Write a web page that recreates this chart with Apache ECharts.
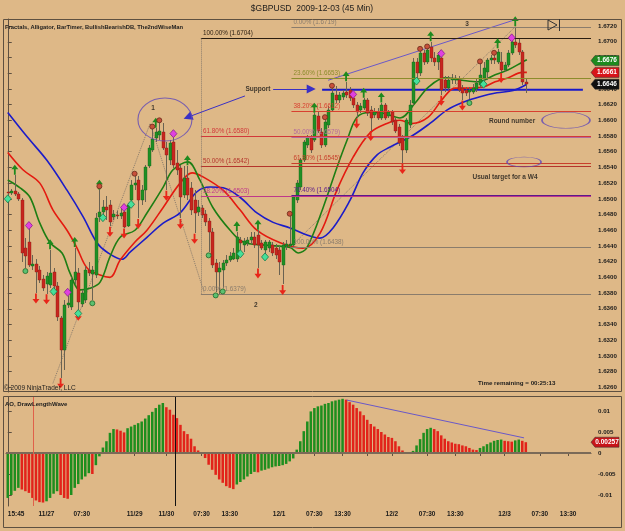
<!DOCTYPE html>
<html>
<head>
<meta charset="utf-8">
<title>$GBPUSD 2009-12-03 (45 Min)</title>
<script src="https://cdn.jsdelivr.net/npm/echarts@6.0.0/dist/echarts.min.js"></script>
<style>
html,body{margin:0;padding:0;background:#DEB887;overflow:hidden;}
#chart{width:625px;height:531px;}
</style>
</head>
<body>
<div id="chart"></div>
<script>
// ================= DATA =================
const titleText = '$GBPUSD  2009-12-03 (45 Min)';
const indicatorText = 'Fractals, Alligator, BarTimer, BullishBearishDB, The2ndWiseMan';
const aoPanelText = 'AO, DrawLengthWave';
const copyrightText = '\u00A9 2009 NinjaTrader, LLC';
const timerText = 'Time remaining = 00:25:13';

const N_SLOTS = 166; // bar slots incl. right margin

// 45-min bars: [open, close, low, high]
const ohlc = [
[1.6509,1.6507,1.6503,1.6511],[1.6507,1.6510,1.6505,1.6512],[1.6510,1.6506,1.6503,1.6530],[1.6506,1.6500,1.6497,1.6509],
[1.6498,1.6431,1.6419,1.6501],[1.6437,1.6427,1.6412,1.6450],[1.6445,1.6416,1.6413,1.6463],[1.6414,1.6417,1.6409,1.6428],
[1.6417,1.6407,1.6380,1.6424],[1.6409,1.6396,1.6393,1.6414],[1.6398,1.6386,1.6382,1.6403],[1.6391,1.6402,1.6379,1.6407],
[1.6390,1.6405,1.6387,1.6435],[1.6407,1.6389,1.6385,1.6412],[1.6389,1.6349,1.6345,1.6394],[1.6348,1.6307,1.6272,1.6351],
[1.6307,1.6365,1.6282,1.6371],[1.6365,1.6367,1.6361,1.6376],[1.6362,1.6396,1.6358,1.6400],[1.6396,1.6407,1.6391,1.6438],
[1.6405,1.6368,1.6358,1.6412],[1.6366,1.6380,1.6362,1.6384],[1.6371,1.6409,1.6367,1.6414],[1.6409,1.6405,1.6402,1.6419],
[1.6404,1.6409,1.6371,1.6414],[1.6403,1.6475,1.6399,1.6482],[1.6477,1.6483,1.6470,1.6511],[1.6483,1.6489,1.6478,1.6498],
[1.6489,1.6486,1.6473,1.6503],[1.6492,1.6470,1.6465,1.6498],[1.6477,1.6481,1.6473,1.6486],[1.6479,1.6478,1.6474,1.6484],
[1.6478,1.6482,1.6474,1.6488],[1.6483,1.6464,1.6463,1.6487],[1.6466,1.6492,1.6464,1.6495],[1.6498,1.6517,1.6496,1.6524],
[1.6517,1.6520,1.6511,1.6530],[1.6524,1.6498,1.6475,1.6529],[1.6498,1.6511,1.6492,1.6517],[1.6511,1.6540,1.6496,1.6543],
[1.6542,1.6565,1.6539,1.6568],[1.6562,1.6576,1.6559,1.6591],[1.6577,1.6585,1.6572,1.6590],[1.6581,1.6587,1.6575,1.6598],
[1.6585,1.6565,1.6562,1.6596],[1.6565,1.6556,1.6511,1.6572],[1.6549,1.6571,1.6543,1.6575],[1.6572,1.6543,1.6539,1.6580],
[1.6545,1.6537,1.6530,1.6562],[1.6539,1.6502,1.6475,1.6543],[1.6505,1.6526,1.6501,1.6542],[1.6526,1.6505,1.6498,1.6542],
[1.6514,1.6486,1.6479,1.6521],[1.6498,1.6482,1.6456,1.6511],[1.6483,1.6489,1.6478,1.6498],[1.6488,1.6479,1.6475,1.6492],
[1.6481,1.6470,1.6465,1.6486],[1.6472,1.6458,1.6432,1.6475],[1.6458,1.6416,1.6412,1.6463],[1.6418,1.6407,1.6381,1.6424],
[1.6407,1.6412,1.6379,1.6419],[1.6409,1.6418,1.6386,1.6422],[1.6418,1.6422,1.6414,1.6428],[1.6422,1.6427,1.6419,1.6432],
[1.6424,1.6431,1.6422,1.6437],[1.6424,1.6451,1.6419,1.6458],[1.6447,1.6444,1.6435,1.6452],[1.6441,1.6446,1.6432,1.6450],
[1.6444,1.6447,1.6440,1.6452],[1.6447,1.6452,1.6442,1.6458],[1.6452,1.6441,1.6437,1.6458],[1.6454,1.6441,1.6412,1.6460],
[1.6444,1.6437,1.6435,1.6447],[1.6435,1.6445,1.6430,1.6447],[1.6437,1.6445,1.6432,1.6447],[1.6441,1.6431,1.6427,1.6445],
[1.6437,1.6428,1.6424,1.6442],[1.6435,1.6419,1.6403,1.6440],[1.6416,1.6441,1.6391,1.6445],[1.6440,1.6442,1.6435,1.6447],
[1.6440,1.6442,1.6437,1.6479],[1.6441,1.6502,1.6438,1.6505],[1.6498,1.6520,1.6495,1.6524],[1.6515,1.6549,1.6511,1.6552],
[1.6549,1.6572,1.6547,1.6575],[1.6568,1.6579,1.6565,1.6581],[1.6577,1.6562,1.6558,1.6581],[1.6575,1.6607,1.6572,1.6609],
[1.6605,1.6587,1.6584,1.6610],[1.6585,1.6568,1.6565,1.6590],[1.6568,1.6598,1.6566,1.6600],[1.6594,1.6613,1.6590,1.6618],
[1.6613,1.6635,1.6610,1.6641],[1.6632,1.6626,1.6622,1.6644],[1.6626,1.6632,1.6622,1.6636],[1.6630,1.6635,1.6626,1.6638],
[1.6636,1.6632,1.6628,1.6649],[1.6638,1.6628,1.6624,1.6642],[1.6628,1.6619,1.6616,1.6631],[1.6619,1.6610,1.6603,1.6623],
[1.6613,1.6618,1.6609,1.6622],[1.6616,1.6626,1.6613,1.6628],[1.6626,1.6609,1.6605,1.6628],[1.6613,1.6603,1.6587,1.6618],
[1.6607,1.6610,1.6603,1.6616],[1.6610,1.6603,1.6600,1.6616],[1.6603,1.6619,1.6600,1.6622],[1.6619,1.6603,1.6600,1.6622],
[1.6605,1.6610,1.6603,1.6613],[1.6610,1.6598,1.6594,1.6613],[1.6600,1.6587,1.6584,1.6603],[1.6591,1.6571,1.6567,1.6595],
[1.6577,1.6562,1.6545,1.6581],[1.6562,1.6600,1.6558,1.6603],[1.6594,1.6619,1.6590,1.6626],[1.6622,1.6674,1.6619,1.6679],
[1.6674,1.6660,1.6651,1.6679],[1.6660,1.6686,1.6656,1.6689],[1.6686,1.6674,1.6670,1.6689],[1.6674,1.6689,1.6672,1.6692],
[1.6693,1.6679,1.6674,1.6700],[1.6679,1.6674,1.6669,1.6687],[1.6674,1.6683,1.6664,1.6687],[1.6679,1.6638,1.6632,1.6682],
[1.6651,1.6641,1.6636,1.6656],[1.6641,1.6651,1.6638,1.6656],[1.6651,1.6654,1.6646,1.6659],[1.6651,1.6654,1.6646,1.6658],
[1.6651,1.6638,1.6636,1.6656],[1.6641,1.6635,1.6626,1.6645],[1.6638,1.6635,1.6631,1.6642],[1.6636,1.6638,1.6627,1.6642],
[1.6636,1.6641,1.6633,1.6646],[1.6640,1.6647,1.6636,1.6654],[1.6645,1.6658,1.6641,1.6673],[1.6654,1.6666,1.6649,1.6674],
[1.6661,1.6677,1.6651,1.6679],[1.6677,1.6679,1.6672,1.6683],[1.6679,1.6677,1.6672,1.6684],[1.6674,1.6687,1.6672,1.6691],
[1.6674,1.6664,1.6661,1.6687],[1.6664,1.6670,1.6661,1.6674],[1.6670,1.6686,1.6668,1.6689],[1.6686,1.6700,1.6683,1.6703],
[1.6700,1.6696,1.6692,1.6719],[1.6698,1.6687,1.6683,1.6705],[1.6687,1.6649,1.6645,1.6689],[1.6649,1.6646,1.6635,1.6654]
];

// Alligator lines [barIndex, price]
const jaw = [[0,1.6610],[5.5,1.6579],[11.1,1.6549],[16.8,1.6511],[21.4,1.6477],[25.3,1.6444],[28.2,1.6432],[32.4,1.6423],[34.7,1.6432],[39.5,1.6451],[44.1,1.6469],[48.9,1.6482],[53.7,1.6509],[57.4,1.6515],[61.1,1.6514],[65.9,1.6502],[70.7,1.6482],[75.3,1.6470],[80.1,1.6463],[84.9,1.6454],[88.6,1.6450],[92.3,1.6463],[97.1,1.6498],[100.8,1.6533],[104.8,1.6556],[108.5,1.6566],[115,1.6581],[119.8,1.6596],[124.6,1.6613],[129.2,1.6623],[134,1.6630],[138.8,1.6635],[143.4,1.6638],[147.3,1.6646]];
const teeth = [[0,1.6559],[4.3,1.6537],[9.1,1.6520],[12.8,1.6486],[16.8,1.6460],[19.6,1.6438],[22.5,1.6412],[26.2,1.6403],[29,1.6400],[31.9,1.6422],[36.1,1.6445],[39.5,1.6460],[44.1,1.6489],[48.9,1.6520],[52.3,1.6533],[55.4,1.6528],[61.1,1.6511],[65.9,1.6486],[70.7,1.6460],[77.3,1.6444],[83.8,1.6437],[88.6,1.6456],[93.4,1.6511],[98,1.6553],[102.8,1.6584],[107.6,1.6596],[111.3,1.6600],[114.7,1.6596],[119.3,1.6604],[123.2,1.6626],[126.9,1.6641],[130.6,1.6641],[134.6,1.6642],[138.3,1.6649],[141.9,1.6654],[146,1.6661],[147.3,1.6661]];
const lips = [[0,1.6524],[3.5,1.6514],[6.3,1.6502],[9.1,1.6469],[12,1.6444],[15.4,1.6431],[17.7,1.6405],[20.5,1.6384],[23.3,1.6386],[26.2,1.6394],[29,1.6426],[31.9,1.6451],[36.1,1.6460],[39.5,1.6482],[44.1,1.6515],[46.9,1.6537],[51.1,1.6547],[54.5,1.6524],[58.2,1.6489],[63.1,1.6460],[66.8,1.6445],[73,1.6441],[80.1,1.6438],[82.4,1.6431],[84.9,1.6438],[89.5,1.6489],[93.4,1.6540],[96.3,1.6575],[99.1,1.6604],[102.8,1.6610],[106.5,1.6609],[111.3,1.6603],[115.6,1.6622],[119.3,1.6642],[124.1,1.6654],[128.9,1.6651],[133.4,1.6649],[138.3,1.6658],[141.9,1.6664],[146,1.6674],[147.3,1.6677]];

// Fractal / indicator markers [barIndex, price]
const upArrows = [[2,1.6537],[12,1.6442],[19,1.6445],[26,1.6518],[42,1.6597],[51,1.6549],[65,1.6465],[71,1.6467],[87,1.6616],[96,1.6656],[101,1.6635],[106,1.6629],[120,1.6707],[139,1.6698],[144,1.6726]];
const downArrows = [[8,1.6373],[11,1.6372],[15,1.6265],[20,1.6351],[29,1.6458],[33,1.6456],[37,1.6468],[45,1.6504],[49,1.6468],[53,1.6449],[71,1.6405],[78,1.6384],[99,1.6596],[103,1.6580],[112,1.6538],[123,1.6625],[129,1.6619],[140,1.6654]];
const greenDots = [[5,1.6408],[24,1.6367],[57,1.6428],[59,1.6377],[61,1.6382],[131,1.6622]];
const redDots = [[26,1.6516],[36,1.6532],[41,1.6592],[43,1.6600],[80,1.6481],[90,1.6604],[92,1.6644],[117,1.6691],[119,1.6694],[134,1.6675],[138,1.6686]];
const greenDiamonds = [[0,1.6500],[13,1.6382],[20,1.6354],[27,1.6476],[35,1.6493],[66,1.6430],[73,1.6426],[116,1.6650],[135,1.6646]];
const magentaDiamonds = [[6,1.6466],[17,1.6381],[33,1.6489],[47,1.6583],[98,1.6633],[123,1.6685],[143,1.6705]];

// Fibonacci retracements
const fibLeftStart = 54.8, fibRightStart = 80.5, fibEnd = 165.5;
const fibLeftPct = ['100.00%','61.80%','50.00%','38.20%','0.00%'];
const fibLeftPrice = [1.6704,1.6580,1.6542,1.6503,1.6379];
const fibRightPct = ['0.00%','23.60%','38.20%','50.00%','61.80%','76.40%','100.00%'];
const fibRightPrice = [1.6719,1.6653,1.6612,1.6579,1.6545,1.6504,1.6438];

// Drawn objects
const supportPrice = 1.6639, supportFrom = 89.2, supportTo = 163.2;
const waveLine1 = [[12.8,1.6265],[40.4,1.6596],[55.7,1.6381]];
const waveLine2 = [[81.0,1.6442],[144.2,1.6720]];
const trendLine = [[90.9,1.6651],[143.9,1.6728]];
const arrowToSupport = [[75.3,1.6640],[86.1,1.6640]];
const arrowToWave1 = [[67.3,1.6631],[51.1,1.6604]];
const ellipseCenters = [[44.6,1.6601],[158.4,1.6600],[146.5,1.6547]];
const annoText = ['Support','Round number','Usual target for a W4','1','2','3'];
const annoPos = [[71.0,1.6640],[143.1,1.6599],[141.1,1.6528],[41.2,1.6616],[70.4,1.6365],[130.3,1.6723]];

// Price axis
const priceTicks = [1.6260,1.6280,1.6300,1.6320,1.6340,1.6360,1.6380,1.6400,1.6420,1.6440,1.6460,1.6480,1.6500,1.6520,1.6540,1.6560,1.6580,1.6600,1.6620,1.6640,1.6660,1.6680,1.6700,1.6720];
const priceMin = 1.6254, priceMax = 1.6729;
const lastLips = 1.6676, lastTeeth = 1.6661, lastClose = 1.6646;

// Awesome Oscillator
const ao = [
-0.0107,-0.0100,-0.0090,-0.0083,-0.0087,-0.0091,-0.0095,-0.0107,-0.0113,-0.0117,
-0.0118,-0.0115,-0.0107,-0.0097,-0.0091,-0.0100,-0.0107,-0.0109,-0.0100,-0.0083,
-0.0074,-0.0063,-0.0056,-0.0048,-0.0050,-0.0029,-0.0008,0.0013,0.0028,0.0048,
0.0057,0.0056,0.0053,0.0049,0.0059,0.0063,0.0067,0.0071,0.0075,0.0082,
0.0090,0.0098,0.0107,0.0115,0.0119,0.0109,0.0103,0.0091,0.0083,0.0067,
0.0052,0.0045,0.0034,0.0016,0.0006,-0.0002,-0.0012,-0.0028,-0.0040,-0.0052,
-0.0063,-0.0071,-0.0079,-0.0083,-0.0086,-0.0075,-0.0069,-0.0063,-0.0056,-0.0050,
-0.0045,-0.0046,-0.0042,-0.0040,-0.0037,-0.0034,-0.0032,-0.0031,-0.0029,-0.0026,
-0.0020,-0.0013,0.0008,0.0028,0.0052,0.0075,0.0099,0.0107,0.0111,0.0113,
0.0117,0.0119,0.0123,0.0125,0.0127,0.0129,0.0127,0.0121,0.0115,0.0107,
0.0099,0.0090,0.0079,0.0069,0.0063,0.0057,0.0050,0.0044,0.0038,0.0036,
0.0028,0.0016,0.0006,0.0002,0.0001,0.0005,0.0018,0.0033,0.0048,0.0057,
0.0060,0.0057,0.0052,0.0042,0.0034,0.0028,0.0025,0.0022,0.0021,0.0018,
0.0016,0.0012,0.0008,0.0007,0.0012,0.0016,0.0021,0.0025,0.0029,0.0031,
0.0032,0.0029,0.0028,0.0027,0.0030,0.0032,0.0029,0.00257
];
const aoMin = -0.01262, aoMax = 0.01333;
const aoTicks = [-0.01,-0.005,0,0.005,0.01];
const aoTickLabels = ['-0.01','-0.005','0','0.005','0.01'];
const aoDivergence = [[96.2,0.0126],[146.5,0.0036]];
const aoRedVertical = 7.2, aoBlackVertical = 47.5;

// Time axis ticks (bar index -> label)
const xTickIdx = [0,9,11,21,36,45,55,63,70,77,87,95,102,109,119,127,134,141,151,159];
const xTickLabels = ['15:45','','11/27','07:30','11/29','11/30','07:30','13:30','','12/1','07:30','13:30','','12/2','07:30','13:30','','12/3','07:30','13:30'];

// ================= STYLE =================
const FN = "'Liberation Sans',Arial,sans-serif";
const AXC = '#5e5040', TXT = '#1a1a1a';
const fibLeftColor = ['#2a1d10','#d2383a','#b4342c','#c0388a','#8a7c6c'];
const fibRightColor = ['#8a7c6c','#8c8c2c','#d84030','#b46a9c','#c8402c','#5a1a8a','#8a7c6c'];
const ELLIPSE_PATH = 'path://M0,50 A50,50 0 1,1 100,50 A50,50 0 1,1 0,50 Z';
const ellipseSizes = [[54,43],[48,16],[34,10]];
const UP_ARROW = 'path://M5,0 L10,5.5 L6.3,5.5 L6.3,12 L3.7,12 L3.7,5.5 L0,5.5 Z';
const DOWN_ARROW = 'path://M3.7,0 L6.3,0 L6.3,6.5 L10,6.5 L5,12 L0,6.5 L3.7,6.5 Z';

const slots = Array.from({length: N_SLOTS}, (_, i) => {
  const k = xTickIdx.indexOf(i); return k >= 0 ? xTickLabels[k] : '';
});
const tickSet = new Set(xTickIdx);

const chart = echarts.init(document.getElementById('chart'), null, {renderer: 'canvas'});

const alligator = (name, pts, color, w) => ({
  type: 'line', name, xAxisIndex: 1, yAxisIndex: 0, data: pts, smooth: 0.35,
  symbol: 'none', lineStyle: {color, width: w}, silent: true, z: 3
});
const markerSeries = (data, symbol, size, color, border) => ({
  type: 'scatter', xAxisIndex: 1, yAxisIndex: 0, data, symbol, symbolSize: size,
  itemStyle: {color, borderColor: border, borderWidth: border ? 0.8 : 0, opacity: 1}, silent: true, z: 5
});

const fibLabel = (text, color) => ({show: true, position: 'insideStartTop', distance: 2, formatter: text,
  color, fontSize: 6.3, fontFamily: FN});
const fibML = [];
fibLeftPrice.forEach((p, k) => fibML.push([
  {coord: [fibLeftStart, p], lineStyle: {color: fibLeftColor[k], width: 1, type: 'solid'},
   label: fibLabel(fibLeftPct[k] + ' (' + p.toFixed(4) + ')', fibLeftColor[k])},
  {coord: [fibEnd, p]}
]));
fibRightPrice.forEach((p, k) => fibML.push([
  {coord: [fibRightStart, p], lineStyle: {color: fibRightColor[k], width: 1, type: 'solid'},
   label: fibLabel(fibRightPct[k] + ' (' + p.toFixed(4) + ')', fibRightColor[k])},
  {coord: [fibEnd, p]}
]));
fibML.push([{coord: [fibLeftStart, fibLeftPrice[0]], lineStyle: {color: '#8a7c6c', width: 1, type: 'dotted'}},
            {coord: [fibLeftStart, fibLeftPrice[fibLeftPrice.length - 1]]}]);
[arrowToSupport, arrowToWave1].forEach(a => fibML.push([
  {coord: a[0], symbol: 'none', lineStyle: {color: '#3a30c4', width: 1, type: 'solid'}},
  {coord: a[1], symbol: 'triangle', symbolSize: 9}
]));

const option = {
  backgroundColor: '#DEB887',
  animation: false,
  grid: [
    {left: 6, top: 19, width: 585, height: 373, containLabel: false, outerBoundsMode: 'none'},
    {left: 6, top: 397, width: 585, height: 109, containLabel: false, outerBoundsMode: 'none'}
  ],
  xAxis: [
    {gridIndex: 0, type: 'category', data: slots, boundaryGap: true, show: false},
    {gridIndex: 0, type: 'value', min: -0.5, max: N_SLOTS - 0.5, show: false},
    {gridIndex: 1, type: 'category', data: slots, boundaryGap: true,
     axisLine: {show: true, lineStyle: {color: AXC, width: 1}},
     axisTick: {show: true, interval: (i) => tickSet.has(i), alignWithLabel: true, length: 3, lineStyle: {color: AXC}},
     axisLabel: {show: true, interval: (i) => tickSet.has(i), margin: 5, fontSize: 6.5, fontFamily: FN, color: TXT,
                 fontWeight: 'bold', alignMinLabel: 'left'},
     splitLine: {show: false}},
    {gridIndex: 1, type: 'value', min: -0.5, max: N_SLOTS - 0.5, show: false}
  ],
  yAxis: [
    {gridIndex: 0, type: 'value', position: 'right', min: priceMin, max: priceMax, scale: true,
     axisLine: {show: true, lineStyle: {color: AXC, width: 1}},
     axisTick: {show: true, length: 4, customValues: priceTicks, lineStyle: {color: AXC}},
     axisLabel: {show: true, customValues: priceTicks, margin: 7, fontSize: 6.2, fontFamily: FN, color: TXT, fontWeight: 'bold',
                 formatter: (v) => Number(v).toFixed(4)},
     splitLine: {show: false}},
    {gridIndex: 1, type: 'value', position: 'right', min: aoMin, max: aoMax,
     axisLine: {show: true, lineStyle: {color: AXC, width: 1}},
     axisTick: {show: true, length: 4, customValues: aoTicks, lineStyle: {color: AXC}},
     axisLabel: {show: true, customValues: aoTicks, margin: 7, fontSize: 6.2, fontFamily: FN, color: TXT, fontWeight: 'bold',
                 formatter: (v) => { const k = aoTicks.findIndex(t => Math.abs(t - v) < 1e-9); return k >= 0 ? aoTickLabels[k] : ''; }},
     splitLine: {show: false}}
  ],
  series: [
    {type: 'line', name: 'Support', xAxisIndex: 1, yAxisIndex: 0,
     data: [[supportFrom, supportPrice], [supportTo, supportPrice]], symbol: 'none',
     lineStyle: {color: '#1818c8', width: 2}, silent: true, z: 2,
     markLine: {silent: true, symbol: ['none', 'none'], label: {show: false}, data: fibML, animation: false}},
    alligator('Jaw', jaw, '#1c1cc8', 1.6),
    alligator('Teeth', teeth, '#e41a10', 1.6),
    alligator('Lips', lips, '#1e7e14', 1.6),
    {type: 'line', xAxisIndex: 1, yAxisIndex: 0, data: waveLine1, symbol: 'none',
     lineStyle: {color: '#8a7c6c', width: 1, type: 'dotted'}, silent: true, z: 2},
    {type: 'line', xAxisIndex: 1, yAxisIndex: 0, data: waveLine2, symbol: 'none',
     lineStyle: {color: '#8a7c6c', width: 1, type: 'dotted'}, silent: true, z: 2},
    {type: 'line', xAxisIndex: 1, yAxisIndex: 0, data: trendLine, symbol: 'none',
     lineStyle: {color: '#6a58c8', width: 1}, silent: true, z: 2},
    {type: 'custom', name: 'GBPUSD', xAxisIndex: 0, yAxisIndex: 0, silent: true, z: 4,
     data: ohlc.map((d, i) => [i, d[0], d[1], d[2], d[3]]),
     encode: {x: 0, y: [1, 2, 3, 4]},
     renderItem: (params, api) => {
       const i = api.value(0), o = api.value(1), c = api.value(2), l = api.value(3), h = api.value(4);
       const pO = api.coord([i, o]), pC = api.coord([i, c]), pH = api.coord([i, h]), pL = api.coord([i, l]);
       const cx = Math.round(pO[0]);
       const top = Math.round(Math.min(pO[1], pC[1])), bot = Math.round(Math.max(pO[1], pC[1]));
       const up = c >= o;
       return {type: 'group', children: [
         {type: 'line', shape: {x1: cx + 0.5, y1: Math.round(pH[1]), x2: cx + 0.5, y2: Math.round(pL[1])},
          style: {stroke: '#6a6252', lineWidth: 1}},
         {type: 'rect', shape: {x: cx - 1, y: top, width: 3, height: Math.max(1, bot - top)},
          style: {fill: up ? '#1f8f24' : '#c8261e', stroke: up ? '#17601a' : '#8a1c14', lineWidth: 0.4}}
       ]};
     }},
    markerSeries(upArrows, UP_ARROW, [7, 10], '#1e8a1e', null),
    markerSeries(downArrows, DOWN_ARROW, [7, 10], '#e8261a', null),
    markerSeries(greenDots, 'circle', 5, '#5cc070', '#1f6a2a'),
    markerSeries(redDots, 'circle', 5, '#c8503a', '#6a2a1a'),
    markerSeries(greenDiamonds, 'diamond', [7, 8], '#46e09a', '#1a7a4a'),
    markerSeries(magentaDiamonds, 'diamond', [7, 8], '#e040e0', '#8a208a'),
    {type: 'scatter', xAxisIndex: 1, yAxisIndex: 0, silent: true, z: 6,
     data: ellipseCenters.map((c, k) => ({value: c, symbolSize: ellipseSizes[k]})),
     symbol: ELLIPSE_PATH,
     itemStyle: {color: 'rgba(0,0,0,0)', borderColor: '#6048b8', borderWidth: 1}},
    {type: 'scatter', xAxisIndex: 1, yAxisIndex: 0, silent: true, z: 7,
     data: annoPos.map((p, k) => ({value: p, name: annoText[k]})), symbolSize: 1,
     itemStyle: {color: 'rgba(0,0,0,0)'},
     label: {show: true, position: 'inside', formatter: '{b}', fontSize: 6.5, fontWeight: 'bold', color: '#141414', fontFamily: FN}},
    {type: 'bar', name: 'AO', xAxisIndex: 2, yAxisIndex: 1, barWidth: '72%', silent: true,
     data: ao.map((v, i) => ({value: v, itemStyle: {color: (i > 0 && v < ao[i - 1]) ? '#e2231a' : '#1e8e1e'}}))},
    {type: 'line', xAxisIndex: 3, yAxisIndex: 1, data: aoDivergence, symbol: 'none', silent: true, z: 5,
     lineStyle: {color: '#6a58c8', width: 1},
     markLine: {silent: true, symbol: ['none', 'none'], label: {show: false}, animation: false, data: [
       [{coord: [-0.5, 0], lineStyle: {color: '#7a6a58', width: 2, type: 'solid'}}, {coord: [N_SLOTS - 0.5, 0]}],
       [{coord: [aoRedVertical, aoMax], lineStyle: {color: '#e0604a', width: 1, type: 'solid'}}, {coord: [aoRedVertical, aoMin]}],
       [{coord: [aoBlackVertical, aoMax], lineStyle: {color: '#111111', width: 1, type: 'solid'}}, {coord: [aoBlackVertical, aoMin]}]
     ]}}
  ]
};
chart.setOption(option);

// ---- chrome & value badges (positions from the axes' own scales) ----
const yPx = (v) => chart.convertToPixel({yAxisIndex: 0}, v);
const yAo = (v) => chart.convertToPixel({yAxisIndex: 1}, v);
const axisX = chart.convertToPixel({xAxisIndex: 1}, N_SLOTS - 0.5);
const badge = (y, color, text) => [
  {type: 'polygon', silent: true, z: 100,
   shape: {points: [[axisX, y], [axisX + 4, y - 5], [axisX + 28, y - 5], [axisX + 28, y + 5], [axisX + 4, y + 5]]},
   style: {fill: color, stroke: '#2a2a2a', lineWidth: 0.5}},
  {type: 'text', silent: true, z: 101, x: axisX + 16, y: y,
   style: {text, fill: '#ffffff', font: 'bold 6.5px ' + FN, textAlign: 'center', align: 'center', textVerticalAlign: 'middle', verticalAlign: 'middle'}}
];
const txt = (x, y, text, font, align) => ({type: 'text', silent: true, z: 100, x, y,
  style: {text, fill: '#1c1c1c', font, textAlign: align || 'left', align: align || 'left', textVerticalAlign: 'middle', verticalAlign: 'middle'}});

const graphics = [
  {type: 'rect', silent: true, z: 90, shape: {x: 3.5, y: 19.5, width: 618, height: 372}, style: {fill: 'none', stroke: AXC, lineWidth: 1}},
  {type: 'rect', silent: true, z: 90, shape: {x: 3.5, y: 396.5, width: 618, height: 131}, style: {fill: 'none', stroke: AXC, lineWidth: 1}},
  {type: 'polygon', silent: true, z: 90, shape: {points: [[548, 20], [548, 30], [557, 25]]}, style: {fill: 'none', stroke: '#333', lineWidth: 1}},
  {type: 'line', silent: true, z: 90, shape: {x1: 559.5, y1: 19, x2: 559.5, y2: 31}, style: {stroke: '#333', lineWidth: 1}},
  txt(312, 9, titleText, '8.5px ' + FN, 'center'),
  txt(5, 27, indicatorText, 'bold 5.8px ' + FN),
  txt(5, 404, aoPanelText, 'bold 6px ' + FN),
  txt(4, 388, copyrightText, '6.5px ' + FN),
  txt(478, 383, timerText, 'bold 6.2px ' + FN)
].concat(
  badge(yPx(lastLips), '#1e8a1e', lastLips.toFixed(4)),
  badge(yPx(lastTeeth), '#d8141a', lastTeeth.toFixed(4)),
  badge(yPx(lastClose), '#101010', lastClose.toFixed(4)),
  badge(yAo(ao[ao.length - 1]), '#c8141a', ao[ao.length - 1].toFixed(5))
);
chart.setOption({graphic: graphics});
</script>
</body>
</html>
